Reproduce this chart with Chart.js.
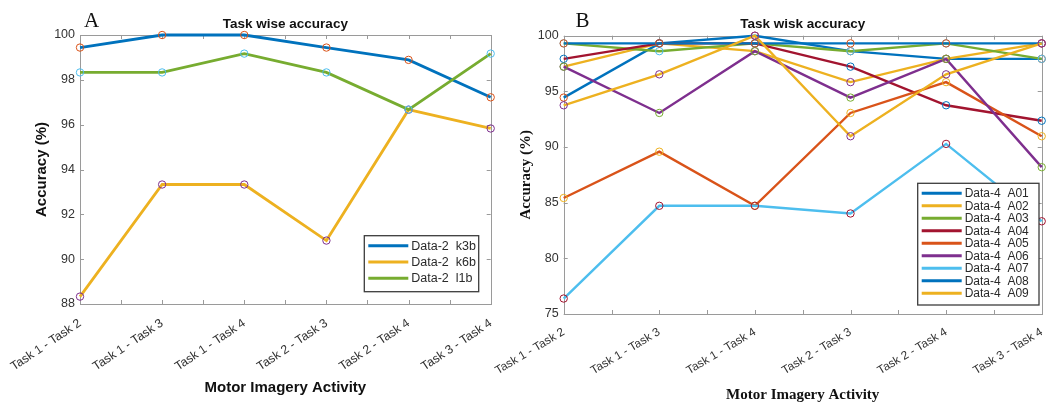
<!DOCTYPE html>
<html>
<head>
<meta charset="utf-8">
<script src="https://cdn.jsdelivr.net/npm/chart.js@4.4.1/dist/chart.umd.min.js"></script>
<style>
  html, body { margin: 0; padding: 0; background: #fff; }
  #wrap { position: relative; width: 1060px; height: 402px; overflow: hidden; }
  #chartA { position: absolute; left: 0; top: 0; }
  #chartB { position: absolute; left: 440px; top: 0; }
</style>
</head>
<body>
<div id="wrap">
  <canvas id="chartA" width="530" height="402"></canvas>
  <canvas id="chartB" width="620" height="402"></canvas>
</div>
<script>
// categories (both panels)
var tasks = ["Task 1 - Task 2", "Task 1 - Task 3", "Task 1 - Task 4",
             "Task 2 - Task 3", "Task 2 - Task 4", "Task 3 - Task 4"];

// panel A - Data-2
var labelsA = ["Data-2  k3b", "Data-2  k6b", "Data-2  l1b"];
var k3b = [99.44, 100, 100, 99.44, 98.89, 97.22];
var k6b = [88.33, 93.33, 93.33, 90.83, 96.67, 95.83];
var l1b = [98.33, 98.33, 99.17, 98.33, 96.67, 99.17];

// panel B - Data-4
var labelsB = ["Data-4  A01", "Data-4  A02", "Data-4  A03", "Data-4  A04", "Data-4  A05",
               "Data-4  A06", "Data-4  A07", "Data-4  A08", "Data-4  A09"];
var a01 = [94.44, 99.31, 100, 98.61, 97.92, 97.92];
var a02 = [97.22, 99.31, 98.61, 95.83, 97.92, 99.31];
var a03 = [99.31, 98.61, 99.31, 98.61, 99.31, 97.92];
var a04 = [97.92, 99.31, 99.31, 97.22, 93.75, 92.36];
var a05 = [85.42, 89.58, 84.72, 93.06, 95.83, 90.97];
var a06 = [97.22, 93.06, 98.61, 94.44, 97.92, 88.19];
var a07 = [76.39, 84.72, 84.72, 84.03, 90.28, 83.33];
var a08 = [99.31, 99.31, 99.31, 99.31, 99.31, 99.31];
var a09 = [93.75, 96.53, 100, 90.97, 96.53, 99.31];

// y axis ranges / steps
var yRangeA = [88, 100, 2];
var yRangeB = [75, 100, 5];

// matlab default color order
var colorOrder = ['#0072BD', '#D95319', '#EDB120', '#7E2F8E', '#77AC30', '#4DBEEE', '#A2142F'];

var SANS = '"Liberation Sans", Arial, sans-serif';
var SERIF = '"Liberation Serif", "Times New Roman", serif';

// line i uses color 2i, its circle markers use color 2i+1 (plotted as separate objects in matlab)
function buildSets(labels, series, lineWidth) {
	var sets = [];
	for (var i = 0; i < series.length; i++) {
		sets.push({
			label: labels[i],
			data: series[i],
			borderColor: colorOrder[(2 * i) % 7],
			borderWidth: lineWidth,
			pointStyle: 'circle',
			pointRadius: 3.7,
			pointBorderWidth: 1,
			pointBorderColor: colorOrder[(2 * i + 1) % 7],
			pointBackgroundColor: 'rgba(0,0,0,0)',
			tension: 0,
			fill: false,
			clip: false,
			order: series.length - i
		});
	}
	return sets;
}

// axes box, inward ticks, titles and the boxed legend
function boxPlugin(o) {
	return {
		id: 'matlabBox',
		beforeDatasetsDraw: function(chart) {
			var ctx = chart.ctx, ca = chart.chartArea;
			var xs = chart.scales.x, ys = chart.scales.y;
			ctx.save();
			ctx.strokeStyle = '#9a9a9a';
			ctx.lineWidth = 1;
			ctx.strokeRect(Math.round(ca.left) + 0.5, Math.round(ca.top) + 0.5,
				Math.round(ca.right - ca.left), Math.round(ca.bottom - ca.top));
			ctx.beginPath();
			var n = chart.data.labels.length;
			for (var i = 0; i < n; i++) {
				var px = [xs.getPixelForValue(i)];
				if (i < n - 1) px.push((xs.getPixelForValue(i) + xs.getPixelForValue(i + 1)) / 2);
				px.forEach(function(p) {
					p = Math.round(p) + 0.5;
					ctx.moveTo(p, ca.bottom); ctx.lineTo(p, ca.bottom - 4);
					ctx.moveTo(p, ca.top); ctx.lineTo(p, ca.top + 4);
				});
			}
			ys.ticks.forEach(function(t) {
				var py = Math.round(ys.getPixelForValue(t.value)) + 0.5;
				ctx.moveTo(ca.left, py); ctx.lineTo(ca.left + 4, py);
				ctx.moveTo(ca.right, py); ctx.lineTo(ca.right - 4, py);
			});
			ctx.stroke();
			ctx.restore();
		},
		afterDatasetsDraw: function(chart) {
			var ctx = chart.ctx, ca = chart.chartArea;
			var cx = (ca.left + ca.right) / 2;
			ctx.save();
			ctx.fillStyle = '#111';
			// panel letter
			ctx.font = '21px ' + SERIF;
			ctx.textAlign = 'left';
			ctx.textBaseline = 'alphabetic';
			ctx.fillText(o.letter, o.letterX, 27);
			// title
			ctx.font = 'bold 13.5px ' + SANS;
			ctx.textAlign = 'center';
			ctx.fillText(o.title, cx, 28);
			// x title
			ctx.font = o.axisFont;
			ctx.fillText('Motor Imagery Activity', cx, o.xTitleY);
			// y title
			ctx.save();
			ctx.translate(o.yTitleX, (ca.top + ca.bottom) / 2);
			ctx.rotate(-Math.PI / 2);
			ctx.textBaseline = 'middle';
			ctx.fillText('Accuracy (%)', 0, 0);
			ctx.restore();

			// legend box
			var lg = o.legend;
			ctx.fillStyle = '#fff';
			ctx.fillRect(lg.x, lg.y, lg.w, lg.h);
			ctx.strokeStyle = '#3c3c3c';
			ctx.lineWidth = 1.3;
			ctx.strokeRect(lg.x, lg.y, lg.w, lg.h);
			ctx.font = lg.font;
			ctx.textAlign = 'left';
			ctx.textBaseline = 'middle';
			chart.data.datasets.forEach(function(ds, i) {
				var ry = lg.y + lg.first + i * lg.step;
				ctx.strokeStyle = ds.borderColor;
				ctx.lineWidth = 3;
				ctx.beginPath();
				ctx.moveTo(lg.x + 4, ry);
				ctx.lineTo(lg.x + 44, ry);
				ctx.stroke();
				ctx.fillStyle = '#2a2a2a';
				ctx.fillText(ds.label, lg.x + 47, ry + 0.5);
			});
			ctx.restore();
		}
	};
}

function makeChart(id, sets, yr, opts) {
	return new Chart(document.getElementById(id).getContext('2d'), {
		type: 'line',
		data: { labels: tasks, datasets: sets },
		options: {
			responsive: false,
			animation: false,
			layout: { padding: opts.padding },
			plugins: { legend: { display: false }, title: { display: false }, tooltip: { enabled: false } },
			scales: {
				x: {
					type: 'category',
					offset: false,
					grid: { display: false, drawTicks: false },
					border: { display: false },
					ticks: {
						autoSkip: false,
						minRotation: opts.rotation,
						maxRotation: opts.rotation,
						padding: opts.xPad,
						color: '#333',
						font: { family: SANS, size: opts.xFont }
					},
					afterFit: function(s) { s.height = opts.xHeight; }
				},
				y: {
					min: yr[0],
					max: yr[1],
					grid: { display: false, drawTicks: false },
					border: { display: false },
					ticks: {
						stepSize: yr[2],
						padding: 5,
						color: '#333',
						font: { family: SANS, size: 12.5 }
					},
					afterFit: function(s) { s.width = opts.yWidth; }
				}
			}
		},
		plugins: [boxPlugin(opts)]
	});
}

makeChart('chartA', buildSets(labelsA, [k3b, k6b, l1b], 2.8), yRangeA, {
	padding: { left: 0, top: 35, right: 39.3, bottom: 0 },
	yWidth: 80, xHeight: 98, rotation: 34, xPad: 12, xFont: 12.3,
	letter: 'A', letterX: 84, title: 'Task wise accuracy',
	axisFont: 'bold 15px ' + SANS, xTitleY: 392, yTitleX: 42,
	legend: { x: 364.3, y: 235.7, w: 114.4, h: 56, first: 10, step: 16.3, font: '12.5px ' + SANS }
});

makeChart('chartB', buildSets(labelsB, [a01, a02, a03, a04, a05, a06, a07, a08, a09], 2.4), yRangeB, {
	padding: { left: 0, top: 35.7, right: 16.5, bottom: 0 },
	yWidth: 123.7, xHeight: 88, rotation: 31, xPad: 11, xFont: 11.8,
	letter: 'B', letterX: 135.6, title: 'Task wisk accuracy',
	axisFont: 'bold 15px ' + SERIF, xTitleY: 399, yTitleX: 86,
	legend: { x: 477.7, y: 183.3, w: 121.3, h: 121.7, first: 10, step: 12.5, font: '12px ' + SANS }
});
</script>
</body>
</html>
